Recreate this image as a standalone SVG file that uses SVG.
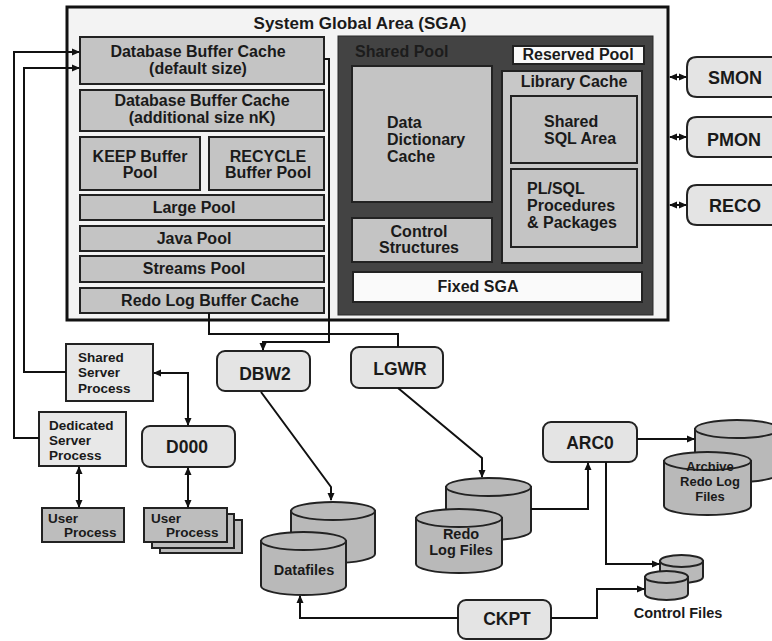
<svg xmlns="http://www.w3.org/2000/svg" width="772" height="641" viewBox="0 0 772 641">
<defs>
<marker id="ah" markerWidth="8" markerHeight="8" refX="7" refY="4" orient="auto-start-reverse" markerUnits="userSpaceOnUse"><path d="M0,0.5 L8,4 L0,7.5 Z" fill="#111"/></marker>
</defs>
<style>
text{font-family:"Liberation Sans",Arial,sans-serif;font-weight:bold;fill:#1a1a1a}
.c{text-anchor:middle}
.box{fill:#c4c4c4;stroke:#222;stroke-width:2}
.lib{fill:#c8c8c8;stroke:#222;stroke-width:2}
.wbox{fill:#fafafa;stroke:#222;stroke-width:2}
.proc{fill:#e4e4e4;stroke:#222;stroke-width:2}
.srv{fill:#e8e8e8;stroke:#222;stroke-width:2}
.usr{fill:#bdbdbd;stroke:#222;stroke-width:2}
.cyl{fill:#b9b9b9;stroke:#222;stroke-width:2}
.ln{fill:none;stroke:#111;stroke-width:2}
.t16{font-size:16px}
.t14{font-size:14.5px}
.t13{font-size:13.5px}
.t12{font-size:13px}
.t17{font-size:17.5px}
.t18{font-size:18px}
</style>
<rect width="772" height="641" fill="#ffffff"/>

<g id="sga">
<rect x="67" y="7" width="601" height="313" fill="#f3f3f3" stroke="#111" stroke-width="3"/>
<text class="c" x="360" y="29" font-size="17px">System Global Area (SGA)</text>
</g>

<g id="dbbc-default"><rect class="box" x="80" y="37" width="244" height="47"/><text class="c t16" x="198" y="57">Database Buffer Cache</text><text class="c t16" x="198" y="74">(default size)</text></g>
<g id="dbbc-nk"><rect class="box" x="80" y="90" width="244" height="41"/><text class="c t16" x="202" y="106">Database Buffer Cache</text><text class="c t16" x="202" y="123">(additional size nK)</text></g>
<g id="keep"><rect class="box" x="80" y="137" width="120" height="53"/><text class="c t16" x="140" y="162">KEEP Buffer</text><text class="c t16" x="140" y="178">Pool</text></g>
<g id="recycle"><rect class="box" x="209" y="137" width="115" height="53"/><text class="c t16" x="268" y="162">RECYCLE</text><text class="c t16" x="268" y="178">Buffer Pool</text></g>
<g id="large"><rect class="box" x="80" y="195" width="244" height="25"/><text class="c t16" x="194" y="213">Large Pool</text></g>
<g id="java"><rect class="box" x="80" y="226" width="244" height="25"/><text class="c t16" x="194" y="244">Java Pool</text></g>
<g id="streams"><rect class="box" x="80" y="256" width="244" height="26"/><text class="c t16" x="194" y="274">Streams Pool</text></g>
<g id="redobuf"><rect class="box" x="80" y="288" width="244" height="25"/><text class="c t16" x="210" y="306">Redo Log Buffer Cache</text></g>

<g id="shared-pool">
<rect x="338" y="36" width="315" height="279" fill="#434343" stroke="#2a2a2a" stroke-width="1"/>
<text class="t16" x="355" y="57" style="fill:#1c1c1c">Shared Pool</text>
</g>
<g id="reserved"><rect class="wbox" x="513" y="46" width="131" height="18"/><text class="c t16" x="578" y="60">Reserved Pool</text></g>
<g id="ddc"><rect class="box" x="352" y="66" width="140" height="136"/><text class="t16" x="387" y="128">Data</text><text class="t16" x="387" y="145">Dictionary</text><text class="t16" x="387" y="162">Cache</text></g>
<g id="control"><rect class="box" x="352" y="218" width="140" height="44"/><text class="c t16" x="419" y="237">Control</text><text class="c t16" x="419" y="253">Structures</text></g>
<g id="library"><rect class="lib" x="502" y="71" width="140" height="192"/><text class="c t16" x="574" y="87">Library Cache</text></g>
<g id="sqlarea"><rect class="box" x="511" y="96" width="126" height="67"/><text class="t16" x="544" y="127">Shared</text><text class="t16" x="544" y="144">SQL Area</text></g>
<g id="plsql"><rect class="box" x="511" y="169" width="126" height="78"/><text class="t16" x="527" y="194">PL/SQL</text><text class="t16" x="527" y="211">Procedures</text><text class="t16" x="527" y="228">&amp; Packages</text></g>
<g id="fixed"><rect class="wbox" x="353" y="272" width="289" height="30"/><text class="c t16" x="478" y="292">Fixed SGA</text></g>

<g id="smon"><path class="proc" d="M780,57 L697,57 Q687,57 687,67 L687,87 Q687,97 697,97 L780,97"/><text class="c t18" x="735" y="84">SMON</text></g>
<g id="pmon"><path class="proc" d="M780,117 L697,117 Q687,117 687,127 L687,147 Q687,157 697,157 L780,157"/><text class="c t18" x="734" y="146">PMON</text></g>
<g id="reco"><path class="proc" d="M780,185 L697,185 Q687,185 687,195 L687,215 Q687,225 697,225 L780,225"/><text class="c t18" x="735" y="212">RECO</text></g>

<g id="shared-server"><rect class="srv" x="66" y="344" width="87" height="57"/><text class="t13" x="78" y="362">Shared</text><text class="t13" x="78" y="377">Server</text><text class="t13" x="78" y="393">Process</text></g>
<g id="dedicated-server"><rect class="srv" x="39" y="412" width="87" height="54"/><text class="t13" x="49" y="430">Dedicated</text><text class="t13" x="49" y="445">Server</text><text class="t13" x="49" y="460">Process</text></g>
<g id="d000"><rect class="proc" x="142" y="426" width="93" height="41" rx="8"/><text class="c t17" x="187" y="453">D000</text></g>
<g id="user1"><rect class="usr" x="42" y="508" width="82" height="34"/><text class="t13" x="48" y="523">User</text><text class="t13" x="64" y="537">Process</text></g>
<g id="user2">
<rect class="usr" x="160" y="520" width="82" height="33"/>
<rect class="usr" x="152" y="514" width="82" height="34"/>
<rect class="usr" x="144" y="508" width="83" height="34"/>
<text class="t13" x="151" y="523">User</text><text class="t13" x="166" y="537">Process</text></g>

<g id="dbw2"><rect class="proc" x="217" y="351" width="93" height="40" rx="8"/><text class="c t17" x="265" y="380">DBW2</text></g>
<g id="lgwr"><rect class="proc" x="351" y="347" width="92" height="41" rx="8"/><text class="c t17" x="400" y="375">LGWR</text></g>
<g id="arc0"><rect class="proc" x="543" y="422" width="94" height="40" rx="8"/><text class="c t17" x="590" y="449">ARC0</text></g>
<g id="ckpt"><rect class="proc" x="458" y="600" width="93" height="39" rx="8"/><text class="c t17" x="507" y="625">CKPT</text></g>

<g id="datafiles">
<path class="cyl" d="M291,511 L291,554 A42,9 0 0 0 375,554 L375,511 Z"/><ellipse class="cyl" cx="333" cy="511" rx="42" ry="9"/>
<path class="cyl" d="M261,541 L261,586 A42.5,9 0 0 0 346,586 L346,541 Z"/><ellipse class="cyl" cx="303.5" cy="541" rx="42.5" ry="9"/>
<text class="c t14" x="304" y="575">Datafiles</text>
</g>
<g id="redo-files">
<path class="cyl" d="M446,487 L446,531 A42.5,9 0 0 0 531,531 L531,487 Z"/><ellipse class="cyl" cx="488.5" cy="487" rx="42.5" ry="9"/>
<path class="cyl" d="M416,518 L416,564 A43,9 0 0 0 502,564 L502,518 Z"/><ellipse class="cyl" cx="459" cy="518" rx="43" ry="9"/>
<text class="c t14" x="461" y="539">Redo</text><text class="c t14" x="461" y="555">Log Files</text>
</g>
<g id="archive">
<path class="cyl" d="M695,429 L695,473 A42,9 0 0 0 779,473 L779,429 Z"/><ellipse class="cyl" cx="737" cy="429" rx="42" ry="9"/>
<path class="cyl" d="M664,461 L664,506 A43.5,9 0 0 0 751,506 L751,461 Z"/><ellipse class="cyl" cx="707.5" cy="461" rx="43.5" ry="9"/>
<text class="c t12" x="710" y="471">Archive</text><text class="c t12" x="710" y="486">Redo Log</text><text class="c t12" x="710" y="501">Files</text>
</g>
<g id="control-files">
<path class="cyl" d="M660,561 L660,577 A21.5,6 0 0 0 703,577 L703,561 Z"/><ellipse class="cyl" cx="681.5" cy="561" rx="21.5" ry="6"/>
<path class="cyl" d="M645,577 L645,594 A21.5,6 0 0 0 688,594 L688,577 Z"/><ellipse class="cyl" cx="666.5" cy="577" rx="21.5" ry="6"/>
<text class="c t14" x="678" y="618">Control Files</text>
</g>

<g id="connectors">
<path class="ln" d="M39,438 L14,438 L14,52 L79,52" marker-end="url(#ah)"/>
<path class="ln" d="M66,372 L24,372 L24,68 L79,68" marker-end="url(#ah)"/>
<path class="ln" d="M154,373 L188,373 L188,425" marker-start="url(#ah)" marker-end="url(#ah)"/>
<path class="ln" d="M79,467 L79,507" marker-start="url(#ah)" marker-end="url(#ah)"/>
<path class="ln" d="M188,468 L188,507" marker-start="url(#ah)" marker-end="url(#ah)"/>
<path class="ln" d="M670,77 L686,77" marker-start="url(#ah)" marker-end="url(#ah)"/>
<path class="ln" d="M670,137 L686,137" marker-start="url(#ah)" marker-end="url(#ah)"/>
<path class="ln" d="M670,205 L686,205" marker-start="url(#ah)" marker-end="url(#ah)"/>
<path class="ln" d="M209,313 L209,334 L398,334 L398,347"/>
<path class="ln" d="M324,59 L329,59 L329,342 L263,342 L263,350" marker-end="url(#ah)"/>
<path class="ln" d="M261,392 L331,487 L331,500" marker-end="url(#ah)"/>
<path class="ln" d="M398,388 L482,458 L482,477" marker-end="url(#ah)"/>
<path class="ln" d="M531,509 L588,509 L588,463" marker-end="url(#ah)"/>
<path class="ln" d="M637,439 L694,439" marker-end="url(#ah)"/>
<path class="ln" d="M606,462 L606,564 L659,564" marker-end="url(#ah)"/>
<path class="ln" d="M551,618 L597,618 L597,589 L644,589" marker-end="url(#ah)"/>
<path class="ln" d="M458,618 L300,618 L300,596" marker-end="url(#ah)"/>
</g>
</svg>
